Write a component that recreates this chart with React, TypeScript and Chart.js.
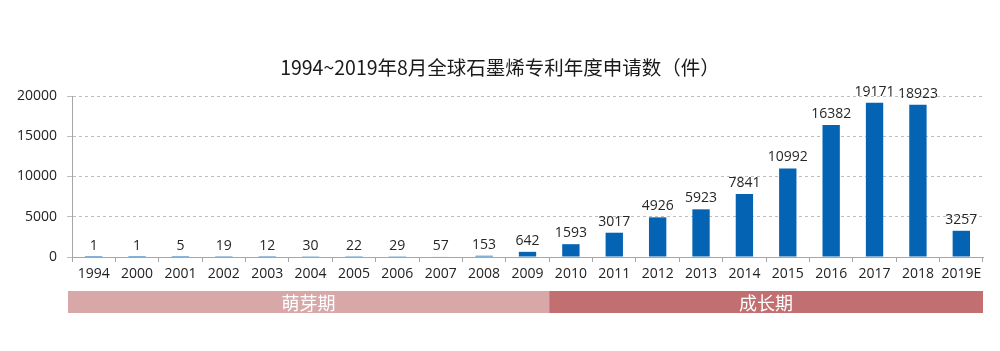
import React, { useEffect, useRef } from 'react';
import { Chart, registerables } from 'chart.js';

Chart.register(...registerables);

const titleText = '1994~2019年8月全球石墨烯专利年度申请数（件）';
const categories = ['1994', '2000', '2001', '2002', '2003', '2004', '2005', '2006', '2007', '2008', '2009', '2010', '2011', '2012', '2013', '2014', '2015', '2016', '2017', '2018', '2019E'];
const values = [1, 1, 5, 19, 12, 30, 22, 29, 57, 153, 642, 1593, 3017, 4926, 5923, 7841, 10992, 16382, 19171, 18923, 3257];
const yMin = 0;
const yMax = 20000;
const yStep = 5000;
const phaseLabels = ['萌芽期', '成长期'];
const phaseStart = ['1994', '2010'];
const phaseEnd = ['2009', '2019E'];
const phaseColors = ['#d8a8a9', '#c16f70'];

const FONT = '"Open Sans", "Noto Sans", sans-serif';
const CJK = '"Noto Sans CJK SC", "Noto Sans", sans-serif';

export default function App() {
  const ref = useRef<HTMLCanvasElement | null>(null);

  useEffect(() => {
    if (!ref.current) return;

    const titlePlugin = {
      id: 'titleDraw',
      afterDraw(chart: any) {
        const ctx = chart.ctx;
        ctx.save();
        ctx.font = `19.5px ${CJK}`;
        ctx.fillStyle = '#1a1a1a';
        ctx.textAlign = 'center';
        ctx.textBaseline = 'middle';
        ctx.fillText(titleText, 500, 68);
        ctx.restore();
      },
    };

    const labelPlugin = {
      id: 'valueLabels',
      afterDatasetsDraw(chart: any) {
        const ctx = chart.ctx;
        const meta = chart.getDatasetMeta(0);
        ctx.save();
        ctx.font = `14px ${FONT}`;
        ctx.fillStyle = '#262626';
        ctx.textAlign = 'center';
        ctx.textBaseline = 'bottom';
        meta.data.forEach((bar: any, i: number) => {
          ctx.fillText(String(values[i]), bar.x, bar.y - 4);
        });
        ctx.restore();
      },
    };

    const bandPlugin = {
      id: 'phaseBands',
      afterDraw(chart: any) {
        const ctx = chart.ctx;
        const xs = chart.scales.x;
        const half = (xs.getPixelForValue(1) - xs.getPixelForValue(0)) / 2;
        const base = chart.chartArea.bottom;
        const top = base + 34;
        const h = 22;
        ctx.save();
        phaseLabels.forEach((lab, i) => {
          const si = categories.indexOf(phaseStart[i]);
          const ei = categories.indexOf(phaseEnd[i]);
          let x0 = xs.getPixelForValue(si) - half;
          const x1 = xs.getPixelForValue(ei) + half;
          if (i === 0) x0 -= 4;
          ctx.fillStyle = phaseColors[i];
          ctx.fillRect(x0, top, x1 - x0, h);
          ctx.fillStyle = '#ffffff';
          ctx.font = `18px ${CJK}`;
          ctx.textAlign = 'center';
          ctx.textBaseline = 'middle';
          ctx.fillText(lab, (x0 + x1) / 2, top + h / 2 + 1);
        });
        ctx.restore();
      },
    };

    const chart = new Chart(ref.current, {
      type: 'bar',
      data: {
        labels: categories,
        datasets: [
          {
            data: values,
            backgroundColor: '#0563b4',
            barPercentage: 0.4,
            categoryPercentage: 1,
          },
        ],
      },
      options: {
        animation: false,
        responsive: false,
        maintainAspectRatio: false,
        layout: { padding: { top: 96, right: 17, left: 0, bottom: 0 } },
        plugins: {
          legend: { display: false },
          tooltip: { enabled: false },
          title: { display: false },
        },
        scales: {
          x: {
            offset: true,
            grid: {
              display: true,
              drawOnChartArea: false,
              drawTicks: true,
              tickLength: 5,
              color: '#a6a6a6',
              offset: true,
            },
            border: { display: true, color: '#a6a6a6' },
            ticks: {
              font: { family: FONT, size: 14 },
              color: '#222222',
              padding: 4,
              maxRotation: 0,
              autoSkip: false,
            },
            afterFit: (s: any) => {
              s.height = 94;
            },
          },
          y: {
            min: yMin,
            max: yMax,
            ticks: {
              stepSize: yStep,
              font: { family: FONT, size: 14 },
              color: '#222222',
              padding: 10,
              callback: (v: any) => String(v),
            },
            grid: { color: '#bdbdbd', tickLength: 5, drawTicks: true },
            border: { display: true, color: '#a6a6a6', dash: [3, 3] },
            afterFit: (s: any) => {
              s.width = 72;
            },
          },
        },
      },
      plugins: [titlePlugin, labelPlugin, bandPlugin],
    });

    return () => chart.destroy();
  }, []);

  return (
    <div style={{ position: 'absolute', left: 0, top: 0, width: 1000, height: 351, background: '#ffffff' }}>
      <canvas ref={ref} width={1000} height={351} style={{ display: 'block', width: 1000, height: 351 }} />
    </div>
  );
}
